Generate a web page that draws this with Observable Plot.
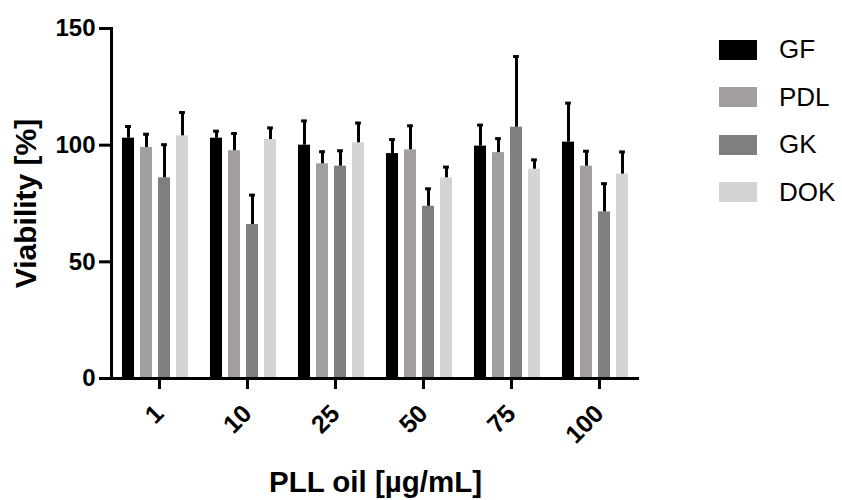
<!DOCTYPE html>
<html>
<head>
<meta charset="utf-8">
<script src="https://cdn.jsdelivr.net/npm/d3@7"></script>
<script src="https://cdn.jsdelivr.net/npm/@observablehq/plot@0.6"></script>
<style>
  html, body { margin: 0; padding: 0; background: #fff; }
  #wrap { position: relative; width: 842px; height: 500px; }
  g[aria-label="y-axis label"] text { font-size: 30px; }
  g[aria-label="fx-axis label"] text { font-size: 29.5px; }
  #legend { position: absolute; left: 719px; top: 26px; font-family: "Liberation Sans", Arial, sans-serif; font-size: 26px; color: #000; }
  #legend .row { display: flex; align-items: center; height: 47.5px; }
  #legend .sw { width: 38px; height: 20px; margin-right: 22px; }
</style>
</head>
<body>
<div id="wrap"></div>
<script>
// Categories
const doses = ["1", "10", "25", "50", "75", "100"];
const series = ["GF", "PDL", "GK", "DOK"];
const colors = ["#000000", "#a29ea2", "#7f7f7f", "#d4d4d4"];
const yTicks = [0, 50, 100, 150];

// Mean viability [%] per dose, per series
const gfValues  = [103.0, 103.0, 100.0, 96.4, 99.6, 101.3];
const pdlValues = [99.0, 97.6, 92.0, 98.0, 96.8, 91.0];
const gkValues  = [86.0, 66.0, 91.0, 73.8, 107.7, 71.4];
const dokValues = [104.0, 102.4, 101.0, 86.0, 89.7, 87.6];

// Error (upper SD) per dose, per series
const gfErrors  = [5.0, 3.0, 10.4, 6.0, 9.0, 16.7];
const pdlErrors = [5.7, 7.4, 5.2, 10.3, 6.0, 6.4];
const gkErrors  = [14.2, 12.6, 6.6, 7.5, 30.3, 12.1];
const dokErrors = [10.0, 5.0, 8.5, 4.6, 4.0, 9.5];

const valuesBySeries = [gfValues, pdlValues, gkValues, dokValues];
const errorsBySeries = [gfErrors, pdlErrors, gkErrors, dokErrors];

const data = [];
series.forEach((s, i) => {
  doses.forEach((d, j) => {
    data.push({dose: d, series: s, value: valuesBySeries[i][j], err: errorsBySeries[i][j]});
  });
});

const plot = Plot.plot({
  width: 842,
  height: 500,
  marginLeft: 108,
  marginRight: 201,
  marginTop: 28,
  marginBottom: 122,
  style: {fontFamily: "'Liberation Sans', Arial, sans-serif", fontWeight: "bold", color: "#000", background: "#fff", overflow: "visible"},
  fx: {domain: doses, padding: 0},
  x: {domain: series, paddingInner: 0.33, paddingOuter: 0.5, axis: null},
  y: {domain: [0, 150]},
  color: {domain: series, range: colors},
  marks: [
    Plot.barY(data, {fx: "dose", x: "series", y: "value", fill: "series"}),
    Plot.ruleX(data, {fx: "dose", x: "series", y1: "value", y2: d => d.value + d.err, stroke: "#000", strokeWidth: 3}),
    Plot.tickY(data, {fx: "dose", x: "series", y: d => d.value + d.err, stroke: "#000", strokeWidth: 3, insetLeft: 3.1, insetRight: 3.1}),
    Plot.ruleY([0], {stroke: "#000", strokeWidth: 3}),
    Plot.frame({anchor: "left", stroke: "#000", strokeWidth: 3, facetAnchor: "left"}),
    Plot.axisY({ticks: yTicks, tickSize: 12, tickPadding: 4, fontSize: 24, strokeWidth: 3,
      label: "Viability [%]", labelAnchor: "center", labelArrow: "none", labelOffset: 97}),
    Plot.axisFx({anchor: "bottom", tickSize: 11, tickPadding: 20, dx: 4, tickRotate: -45, fontSize: 25, strokeWidth: 3,
      label: "PLL oil [µg/mL]", labelAnchor: "center", labelArrow: "none", labelOffset: 113})
  ]
});

const wrap = document.getElementById("wrap");
wrap.appendChild(plot);

// Legend built from the plot's color scale
const colorScale = plot.scale("color");
const legend = document.createElement("div");
legend.id = "legend";
colorScale.domain.forEach((name, i) => {
  const row = document.createElement("div");
  row.className = "row";
  const sw = document.createElement("div");
  sw.className = "sw";
  sw.style.background = colorScale.range[i];
  const label = document.createElement("span");
  label.textContent = name;
  row.appendChild(sw);
  row.appendChild(label);
  legend.appendChild(row);
});
wrap.appendChild(legend);
</script>
</body>
</html>
